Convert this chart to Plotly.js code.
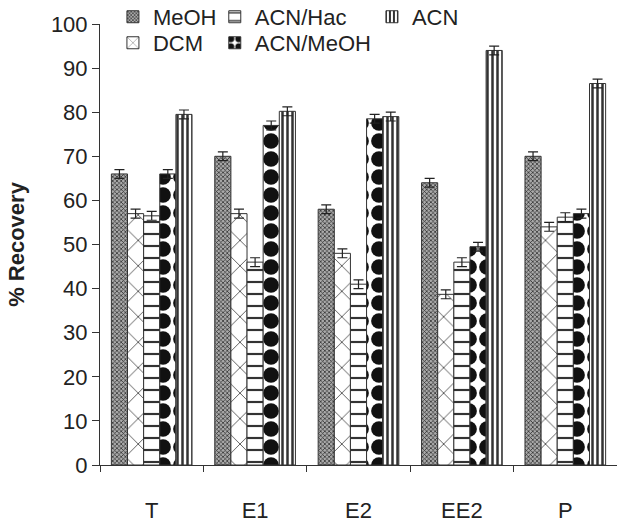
<!DOCTYPE html>
<html><head><meta charset="utf-8">
<script src="https://cdn.plot.ly/plotly-3.0.1.min.js"></script>
<style>html,body{margin:0;padding:0;background:#fff}</style>
</head><body><div id="chart" style="width:617px;height:525px"></div>
<script>
const categories = ["T", "E1", "E2", "EE2", "P"];
const seriesNames = ["MeOH", "DCM", "ACN/Hac", "ACN/MeOH", "ACN"];
const meoh    = [66, 70, 58, 64, 70];
const dcm     = [57, 57, 48, 38.7, 54];
const acnHac  = [56.5, 46, 41, 46, 56.2];
const acnMeoh = [66, 77, 78.5, 49.5, 57];
const acn     = [79.5, 80.2, 79, 94, 86.5];
const errMeoh    = [1, 1, 1, 1, 1];
const errDcm     = [1, 1, 1, 1, 1];
const errAcnHac  = [1, 1, 1, 1, 1];
const errAcnMeoh = [1, 1, 1, 1, 1];
const errAcn     = [1, 1, 1, 1, 1];

const values = [meoh, dcm, acnHac, acnMeoh, acn];
const errs = [errMeoh, errDcm, errAcnHac, errAcnMeoh, errAcn];
const patterns = [
  {shape: "x", fgcolor: "#222", bgcolor: "#aaa", size: 3, solidity: 0.4},
  {shape: "x", fgcolor: "#555", bgcolor: "#fff", size: 18, solidity: 0.1},
  {shape: "-", fgcolor: "#333", bgcolor: "#fff", size: 12, solidity: 0.18},
  {shape: ".", fgcolor: "#111", bgcolor: "#fff", size: 18, solidity: 0.6},
  {shape: "|", fgcolor: "#333", bgcolor: "#fff", size: 5, solidity: 0.5}
];
const legendOf = ["legend", "legend2", "legend3", "legend4", "legend5"];

const traces = seriesNames.map((n, i) => ({
  type: "bar",
  name: n,
  x: categories,
  y: values[i],
  legend: legendOf[i],
  marker: {color: "#fff", line: {color: "#333", width: 1}, pattern: patterns[i]},
  error_y: {type: "data", array: errs[i], visible: true, color: "#222", thickness: 1.2, width: 5}
}));

const FONT = "Liberation Sans, Arial, sans-serif";
const legendFont = {family: FONT, size: 22, color: "#222"};
const legBase = {orientation: "v", bgcolor: "rgba(0,0,0,0)", font: legendFont,
  yanchor: "middle", xanchor: "left", itemwidth: 30, tracegroupgap: 0};
const row1 = 1.016, row2 = 0.957;

const layout = {
  width: 617, height: 525,
  margin: {l: 100, r: 0, t: 24, b: 60, autoexpand: false},
  paper_bgcolor: "#fff", plot_bgcolor: "#fff",
  barmode: "group", bargap: 0.22, bargroupgap: 0,
  font: {family: FONT, color: "#222"},
  showlegend: true,
  legend: Object.assign({}, legBase, {x: 0.025, y: row1}),
  legend2: Object.assign({}, legBase, {x: 0.025, y: row2}),
  legend3: Object.assign({}, legBase, {x: 0.222, y: row1}),
  legend4: Object.assign({}, legBase, {x: 0.222, y: row2}),
  legend5: Object.assign({}, legBase, {x: 0.526, y: row1}),
  xaxis: {
    showline: true, linecolor: "#333", linewidth: 1,
    ticks: "outside", tickson: "boundaries", ticklen: 6, tickcolor: "#333",
    ticklabelstandoff: 26, automargin: false,
    tickfont: {size: 22, color: "#222"}, showgrid: false, zeroline: false
  },
  yaxis: {
    range: [0, 100], dtick: 10, showline: true, linecolor: "#333", linewidth: 1,
    ticks: "outside", ticklen: 7, tickcolor: "#333", automargin: false,
    tickfont: {size: 22, color: "#222"}, showgrid: false, zeroline: false,
    title: {text: "<b>% Recovery</b>", font: {size: 22, color: "#222"}, standoff: 20}
  }
};

Plotly.newPlot("chart", traces, layout, {displayModeBar: false, staticPlot: true});
</script></body></html>
